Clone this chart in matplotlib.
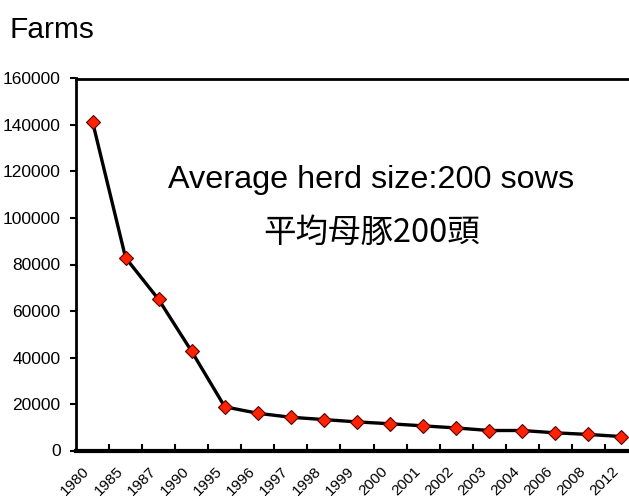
import matplotlib
matplotlib.use("Agg")
import matplotlib.pyplot as plt
import numpy as np

years = ["1980", "1985", "1987", "1990", "1995", "1996", "1997", "1998", "1999",
         "2000", "2001", "2002", "2003", "2004", "2006", "2008", "2012"]
farms = [141400, 82900, 64950, 42600, 18800, 16000, 14300, 13300, 12300,
         11500, 10600, 9700, 8600, 8600, 7600, 6900, 6000]
y_ticks = [0, 20000, 40000, 60000, 80000, 100000, 120000, 140000, 160000]

plt.rcParams['font.family'] = ['Liberation Sans', 'DejaVu Sans']

W, H = 629, 501
fig = plt.figure(figsize=(W / 100, H / 100), dpi=100)
ax = fig.add_axes([76 / W, 50.5 / H, (638 - 76) / W, (422.5 - 50.5) / H])

x = np.arange(len(years))
ax.plot(x, farms, color='black', lw=2.4, marker='D', markersize=7.2,
        markerfacecolor='#ff2200', markeredgecolor='#5a0000', markeredgewidth=0.8,
        zorder=3, clip_on=False)

ax.set_xlim(-0.5, len(years) - 0.5)
ax.set_ylim(0, 160000)
ax.set_yticks(y_ticks)
ax.set_yticklabels([str(v) for v in y_ticks], fontsize=12.5)
ax.tick_params(axis='y', direction='out', length=4, width=1.5, pad=7, colors='black')

ax.set_xticks(x)
ax.set_xticklabels(years, rotation=45, ha='right', va='top', fontsize=11)
ax.tick_params(axis='x', which='major', length=0, pad=10)
ax.set_xticks(np.arange(0.5, len(years) - 1, 1.0), minor=True)
ax.tick_params(axis='x', which='minor', direction='in', length=5, width=1.5)

for side in ['left', 'top', 'right']:
    ax.spines[side].set_linewidth(2)
ax.spines['bottom'].set_linewidth(3)

fig.text(10 / W, 1 - 38 / H, "Farms", fontsize=21.5, ha='left', va='baseline')
fig.text(371.5 / W, 1 - 188 / H, "Average herd size:200 sows", fontsize=23.3,
         ha='center', va='baseline')
fig.text(371.5 / W, 1 - 242 / H, "平均母豚200頭", fontsize=23.4,
         family=['Noto Sans CJK JP', 'DejaVu Sans'], ha='center', va='baseline')

fig.savefig("out.png", dpi=100)
